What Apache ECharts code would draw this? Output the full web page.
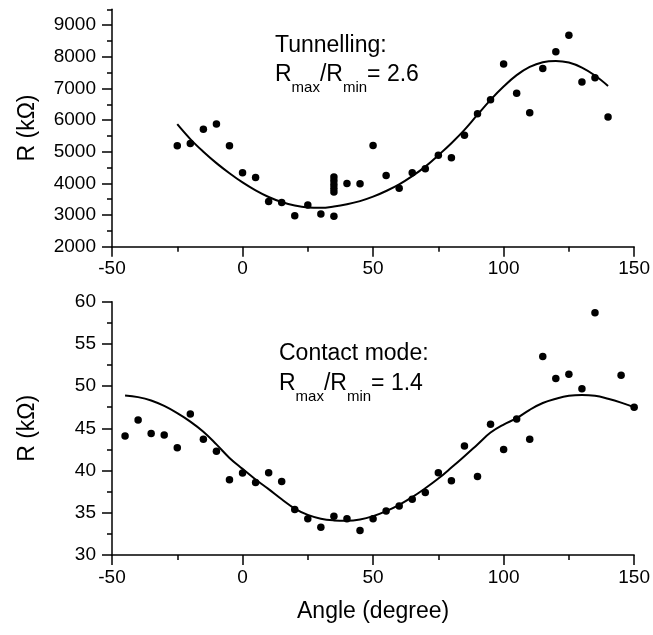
<!DOCTYPE html>
<html>
<head>
<meta charset="utf-8">
<script src="https://cdn.jsdelivr.net/npm/echarts@6/dist/echarts.min.js"></script>
<style>
  body { margin: 0; background: #fff; }
  #chart { width: 653px; height: 635px; }
</style>
</head>
<body>
<div id="chart"></div>
<script>
// Tunnelling panel: measured points
const topAngle = [-25, -20, -15, -10, -5, 0, 5, 10, 15, 20, 25, 30, 35, 35, 35, 35, 35, 35, 40, 45, 50,
    55, 60, 65, 70, 75, 80, 85, 90, 95, 100, 105, 110, 115, 120, 125, 130, 135, 140];
const topR = [5190, 5260, 5710, 5880, 5190, 4340, 4190, 3430, 3400, 2980, 3320, 3030, 4200, 4080, 3960, 3840, 3730, 2960, 4000, 3990, 5200,
    4250, 3850, 4340, 4460, 4890, 4810, 5520, 6200, 6640, 7770, 6850, 6230, 7630, 8160, 8680, 7200, 7340, 6100];

// Tunnelling panel: fitted curve
const topFitAngle = [-25, -20, -15, -10, -5, 0, 5, 10, 15, 20, 25, 30, 35, 40, 45, 50, 55, 60, 65, 70,
    75, 80, 85, 90, 95, 100, 105, 110, 115, 120, 125, 130, 135, 140];
const topFitR = [5870, 5400, 5000, 4640, 4320, 4030, 3780, 3570, 3410, 3300, 3240, 3230, 3270, 3340, 3440, 3580, 3760, 3970, 4230, 4530,
    4890, 5270, 5690, 6170, 6640, 7060, 7420, 7680, 7830, 7870, 7820, 7660, 7410, 7080];

// Contact mode panel: measured points
const bottomAngle = [-45, -40, -35, -30, -25, -20, -15, -10, -5, 0, 5, 10, 15, 20, 25, 30, 35, 40, 45, 50,
    55, 60, 65, 70, 75, 80, 85, 90, 95, 100, 105, 110, 115, 120, 125, 130, 135, 145, 150];
const bottomR = [44.1, 46.0, 44.4, 44.2, 42.7, 46.7, 43.7, 42.3, 38.9, 39.7, 38.6, 39.75, 38.7, 35.4, 34.3, 33.3, 34.6, 34.3, 32.9, 34.3,
    35.2, 35.8, 36.6, 37.4, 39.75, 38.8, 42.9, 39.3, 45.5, 42.5, 46.1, 43.7, 53.5, 50.9, 51.4, 49.7, 58.7, 51.3, 47.5];

// Contact mode panel: fitted curve
const bottomFitAngle = [-45, -40, -35, -30, -25, -20, -15, -10, -5, 0, 5, 10, 15, 20, 25, 30, 35, 40, 45, 50,
    55, 60, 65, 70, 75, 80, 85, 90, 95, 100, 105, 110, 115, 120, 125, 130, 135, 140, 145, 150];
const bottomFitR = [48.9, 48.7, 48.3, 47.65, 46.8, 45.8, 44.6, 43.1, 41.5, 40.2, 38.95, 37.8, 36.6, 35.5, 34.75, 34.3, 34.1, 34.05, 34.2, 34.6,
    35.2, 35.95, 36.85, 37.9, 39.05, 40.35, 41.7, 43.1, 44.5, 45.45, 46.2, 47.2, 48.0, 48.5, 48.85, 48.95, 48.85, 48.5, 48.05, 47.5];

// tick labels
const angleTicks = [-50, 0, 50, 100, 150];
const topRTicks = [2000, 3000, 4000, 5000, 6000, 7000, 8000, 9000];
const bottomRTicks = [30, 35, 40, 45, 50, 55, 60];

const FONT = '"Liberation Sans", Arial, Helvetica, sans-serif';
const pairs = (xs, ys) => xs.map((x, i) => [x, ys[i]]);

const chart = echarts.init(document.getElementById("chart"));

const axisLine = { show: true, onZero: false, lineStyle: { color: "#000", width: 1.5 } };
const tickLabel = { color: "#000", fontSize: 19, fontFamily: FONT, formatter: (v) => String(v) };
const titleStyle = { color: "#000", fontSize: 23, fontFamily: FONT };
const subRich = {
    n: { fontSize: 23, fontFamily: FONT, lineHeight: 27, verticalAlign: "top" },
    s: { fontSize: 15, fontFamily: FONT, lineHeight: 32, verticalAlign: "bottom" },
};

const xAxisBase = (gridIndex) => ({
    type: "value",
    gridIndex: gridIndex,
    position: "bottom",
    min: angleTicks[0],
    max: angleTicks[angleTicks.length - 1],
    interval: 50,
    axisLine: axisLine,
    axisTick: { show: true, length: 10, lineStyle: { color: "#000", width: 1.5 } },
    minorTick: { show: true, splitNumber: 2, length: 5, lineStyle: { color: "#000", width: 1.5 } },
    axisLabel: Object.assign({ margin: 13 }, tickLabel),
    splitLine: { show: false },
});

const option = {
    animation: false,
    backgroundColor: "#fff",
    grid: [
        { left: 112, top: 9.3, width: 525, height: 237.4 },
        { left: 112, top: 301.7, width: 525, height: 253.3 },
    ],
    xAxis: [
        xAxisBase(0),
        Object.assign(xAxisBase(1), {
            name: "Angle (degree)",
            nameLocation: "middle",
            nameGap: 45,
            nameTextStyle: titleStyle,
        }),
    ],
    yAxis: [
        {
            // top panel, short ticks every 500 and the labels
            type: "value",
            gridIndex: 0,
            position: "left",
            min: 2000,
            max: 9500,
            interval: 500,
            axisLine: axisLine,
            axisTick: { show: true, length: 5, lineStyle: { color: "#000", width: 1.5 } },
            axisLabel: Object.assign({ margin: 16, customValues: topRTicks }, tickLabel),
            splitLine: { show: false },
            name: "R (kΩ)",
            nameLocation: "middle",
            nameGap: 73,
            nameTextStyle: titleStyle,
        },
        {
            // top panel, long ticks at the labelled values
            type: "value",
            gridIndex: 0,
            position: "left",
            min: 2000,
            max: 9500,
            interval: 500,
            axisLine: { show: false, onZero: false },
            axisTick: { show: true, length: 10, customValues: topRTicks, lineStyle: { color: "#000", width: 1.5 } },
            axisLabel: { show: false },
            splitLine: { show: false },
        },
        {
            type: "value",
            gridIndex: 1,
            position: "left",
            min: bottomRTicks[0],
            max: bottomRTicks[bottomRTicks.length - 1],
            interval: 5,
            axisLine: axisLine,
            axisTick: { show: true, length: 10, lineStyle: { color: "#000", width: 1.5 } },
            minorTick: { show: true, splitNumber: 2, length: 5, lineStyle: { color: "#000", width: 1.5 } },
            axisLabel: Object.assign({ margin: 16 }, tickLabel),
            splitLine: { show: false },
            name: "R (kΩ)",
            nameLocation: "middle",
            nameGap: 73,
            nameTextStyle: titleStyle,
        },
    ],
    series: [
        {
            type: "line",
            xAxisIndex: 0,
            yAxisIndex: 0,
            data: pairs(topFitAngle, topFitR),
            smooth: 0.4,
            showSymbol: false,
            lineStyle: { color: "#000", width: 2 },
        },
        {
            type: "scatter",
            xAxisIndex: 0,
            yAxisIndex: 0,
            data: pairs(topAngle, topR),
            symbolSize: 7.5,
            itemStyle: { color: "#000", opacity: 1 },
        },
        {
            type: "line",
            xAxisIndex: 1,
            yAxisIndex: 2,
            data: pairs(bottomFitAngle, bottomFitR),
            smooth: 0.4,
            showSymbol: false,
            lineStyle: { color: "#000", width: 2 },
        },
        {
            type: "scatter",
            xAxisIndex: 1,
            yAxisIndex: 2,
            data: pairs(bottomAngle, bottomR),
            symbolSize: 7.5,
            itemStyle: { color: "#000", opacity: 1 },
        },
    ],
    graphic: [
        {
            type: "text", left: 275, top: 34,
            style: { text: "Tunnelling:", fontSize: 23, fontFamily: FONT, fill: "#000" },
        },
        {
            type: "text", left: 275, top: 63,
            style: { text: "{n|R}{s|max}{n|/R}{s|min}{n|= 2.6}", fill: "#000", rich: subRich },
        },
        {
            type: "text", left: 279, top: 342,
            style: { text: "Contact mode:", fontSize: 23, fontFamily: FONT, fill: "#000" },
        },
        {
            type: "text", left: 279, top: 372,
            style: { text: "{n|R}{s|max}{n|/R}{s|min}{n|= 1.4}", fill: "#000", rich: subRich },
        },
    ],
};

chart.setOption(option);
</script>
</body>
</html>
